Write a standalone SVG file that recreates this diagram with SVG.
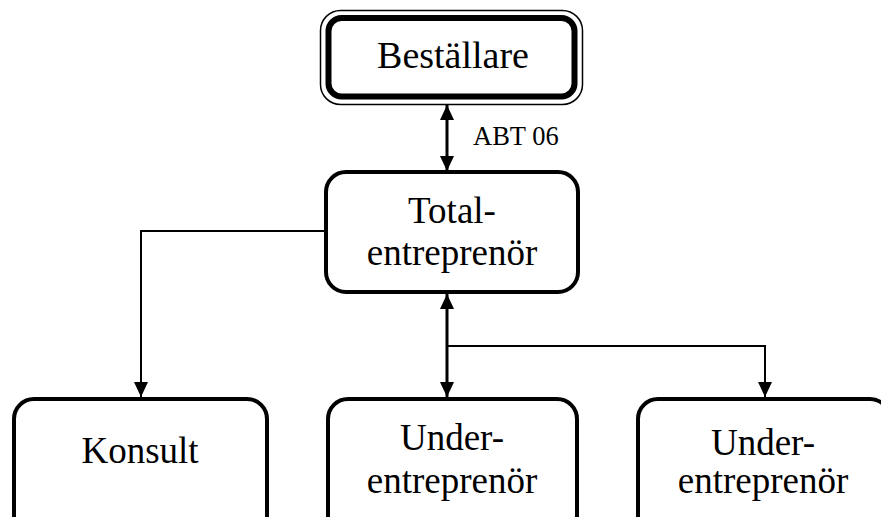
<svg xmlns="http://www.w3.org/2000/svg" width="881" height="517" viewBox="0 0 881 517">
<style>
.box{fill:#fff;stroke:#000;stroke-width:4}
.lbl{font-family:"Liberation Serif","Times New Roman",serif;font-size:37px;fill:#000;text-anchor:middle}
.thick{fill:none;stroke:#000;stroke-width:3}
.thin{fill:none;stroke:#000;stroke-width:2}
</style>
<defs>
<marker id="ah" viewBox="0 0 15 14" refX="15" refY="7" markerWidth="15" markerHeight="14" markerUnits="userSpaceOnUse" orient="auto-start-reverse">
<path d="M0,0 L15,7 L0,14 Z" fill="#000"/>
</marker>
</defs>
<rect width="881" height="517" fill="#fff"/>
<g id="connectors">
<line class="thick" x1="447" y1="105" x2="447" y2="171" marker-start="url(#ah)" marker-end="url(#ah)"/>
<polyline class="thin" points="325,231 141,231 141,397" marker-end="url(#ah)"/>
<line class="thick" x1="447" y1="294" x2="447" y2="397" marker-start="url(#ah)" marker-end="url(#ah)"/>
<polyline class="thin" points="447,346 765,346 765,397" marker-end="url(#ah)"/>
<text x="473" y="145" font-family="Liberation Serif, Times New Roman, serif" font-size="26.5">ABT 06</text>
</g>
<g id="bestallare">
<rect x="320.5" y="10.5" width="262" height="94" rx="20" fill="#fff" stroke="#000" stroke-width="1.5"/>
<rect x="328.5" y="18" width="246" height="78.5" rx="13" fill="#fff" stroke="#000" stroke-width="6"/>
<text class="lbl" x="453" y="68" style="font-size:38px">Beställare</text>
</g>
<g id="total">
<rect class="box" x="326" y="172" width="252" height="120" rx="20"/>
<text class="lbl" x="452" y="223">Total-</text>
<text class="lbl" x="452" y="265">entreprenör</text>
</g>
<g id="konsult">
<rect class="box" x="14" y="399" width="253" height="140" rx="20"/>
<text class="lbl" x="140" y="463">Konsult</text>
</g>
<g id="under1">
<rect class="box" x="328" y="399" width="249" height="140" rx="20"/>
<text class="lbl" x="452" y="450">Under-</text>
<text class="lbl" x="452" y="493">entreprenör</text>
</g>
<g id="under2">
<rect class="box" x="638" y="399" width="252" height="140" rx="20"/>
<text class="lbl" x="763" y="455">Under-</text>
<text class="lbl" x="763" y="493">entreprenör</text>
</g>
</svg>
